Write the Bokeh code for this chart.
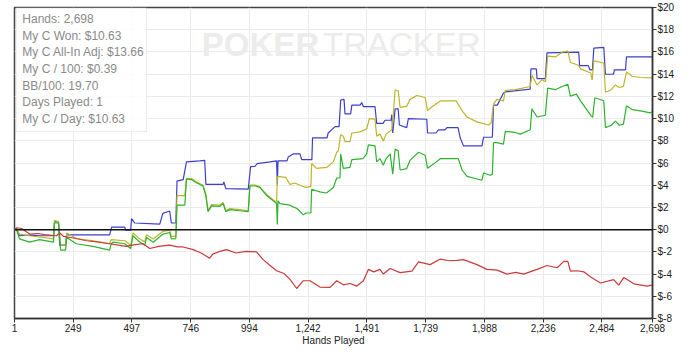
import math
from bokeh.plotting import figure
from bokeh.models import FixedTicker, Span, Label, BoxAnnotation, Range1d
from bokeh.embed import file_html
from bokeh.resources import INLINE

# ---------------- data ----------------
blue_h = [1, 9, 22, 65, 107, 166, 170, 187, 192, 217, 221, 403, 412, 467, 471, 492, 496, 509, 615, 628,
          657, 664, 683, 688, 714, 728, 784, 805, 810, 883, 886, 894, 989, 999, 1017, 1027, 1081, 1109,
          1112, 1115, 1153, 1158, 1179, 1208, 1215, 1258, 1261, 1322, 1327, 1356, 1373, 1380, 1394, 1398,
          1422, 1427, 1462, 1469, 1476, 1525, 1532, 1559, 1567, 1593, 1596, 1600, 1610, 1623, 1628, 1659,
          1666, 1744, 1747, 1783, 1793, 1821, 1829, 1876, 1885, 1899, 1977, 1984, 2021, 2026, 2042, 2068,
          2076, 2181, 2184, 2207, 2210, 2245, 2252, 2386, 2390, 2427, 2433, 2444, 2450, 2492, 2499, 2533,
          2537, 2584, 2588, 2698]
blue_v = [0.0, 0.1, -0.55, -0.5, -0.55, -0.55, 0.7, 0.7, -1.4, -1.4, -0.47, -0.47, 0.23, 0.23, -0.05, -0.05,
          1.0, 0.6, 0.5, 1.47, 1.68, 0.6, 0.6, 4.37, 4.5, 6.1, 6.19, 6.24, 4.07, 4.07, 4.3, 3.7, 3.64, 5.67,
          5.7, 5.95, 6.1, 6.19, 4.07, 6.19, 6.19, 6.53, 6.82, 6.82, 6.3, 6.3, 8.27, 8.27, 8.7, 9.27, 9.27,
          11.67, 11.73, 10.43, 10.43, 11.21, 11.21, 11.44, 11.07, 11.07, 9.57, 9.57, 9.85, 9.85, 10.35, 8.7,
          10.87, 10.87, 9.42, 9.19, 10.0, 9.94, 8.7, 8.7, 8.99, 8.99, 9.19, 9.19, 8.27, 7.54, 7.54, 8.32,
          8.32, 11.21, 11.21, 12.3, 12.4, 12.65, 14.47, 14.47, 13.6, 13.6, 15.92, 15.98, 14.77, 14.77,
          14.39, 14.39, 16.35, 16.41, 13.99, 13.99, 14.39, 14.39, 15.55, 15.55]

green_h = [1, 9, 22, 65, 107, 166, 170, 187, 196, 217, 222, 262, 333, 403, 410, 417, 467, 492, 502, 531,
           552, 559, 587, 629, 657, 664, 683, 688, 721, 728, 750, 770, 798, 810, 819, 834, 869, 883, 894,
           911, 954, 989, 996, 1021, 1038, 1067, 1109, 1112, 1115, 1123, 1165, 1179, 1195, 1222, 1233,
           1254, 1257, 1292, 1320, 1349, 1363, 1377, 1380, 1391, 1419, 1427, 1474, 1490, 1497, 1525, 1532,
           1546, 1560, 1572, 1589, 1600, 1610, 1623, 1631, 1659, 1673, 1709, 1737, 1747, 1772, 1801, 1877,
           1893, 1914, 1977, 1984, 2012, 2021, 2026, 2040, 2068, 2076, 2118, 2139, 2181, 2188, 2210, 2245,
           2255, 2287, 2316, 2340, 2351, 2376, 2394, 2437, 2445, 2454, 2492, 2499, 2524, 2541, 2558, 2575,
           2588, 2612, 2647, 2689, 2698]
green_v = [0.0, 0.0, -0.83, -1.13, -0.9, -1.13, 0.6, 0.6, -1.85, -1.85, -0.7, -1.27, -1.5, -1.85, -1.27,
           -1.13, -1.27, -1.7, -0.55, -1.13, -1.4, -0.7, -1.13, -0.4, -0.26, -0.83, -0.8, 2.2, 2.2, 4.57,
           4.5, 4.22, 3.93, 3.07, 1.62, 2.14, 2.1, 2.34, 1.62, 1.8, 1.7, 1.62, 3.93, 3.93, 3.8, 3.07, 2.34,
           0.47, 2.6, 2.34, 2.2, 2.05, 1.9, 1.33, 1.5, 1.5, 3.64, 3.4, 3.3, 3.79, 4.65, 4.65, 6.82, 5.52,
           5.6, 6.3, 6.4, 6.82, 7.63, 7.55, 6.1, 6.4, 5.8, 6.4, 6.82, 5.0, 7.25, 7.1, 5.37, 5.5, 6.24, 6.97,
           6.7, 5.52, 5.9, 6.39, 6.39, 5.37, 4.8, 4.45, 5.1, 4.9, 5.0, 7.83, 7.83, 7.7, 8.84, 8.75, 8.6,
           8.99, 10.87, 10.14, 10.3, 12.74, 12.6, 12.89, 13.09, 12.02, 12.2, 11.59, 10.29, 10.1, 11.87,
           11.6, 9.19, 9.4, 9.77, 9.4, 9.5, 11.15, 10.81, 10.7, 10.52, 10.63]

yellow_h = [1, 9, 22, 65, 166, 170, 187, 196, 217, 222, 262, 333, 403, 410, 467, 492, 502, 531, 552, 559,
            587, 629, 657, 664, 683, 688, 721, 728, 750, 770, 798, 810, 819, 834, 869, 883, 894, 911, 954,
            989, 996, 1021, 1038, 1067, 1109, 1112, 1148, 1165, 1186, 1215, 1233, 1254, 1257, 1278, 1320,
            1349, 1363, 1370, 1380, 1391, 1398, 1419, 1427, 1462, 1490, 1501, 1525, 1532, 1546, 1560, 1572,
            1596, 1601, 1610, 1623, 1631, 1659, 1673, 1702, 1737, 1747, 1772, 1801, 1868, 1893, 1914, 1956,
            2005, 2016, 2026, 2040, 2068, 2076, 2118, 2181, 2188, 2210, 2231, 2246, 2255, 2288, 2316, 2340,
            2351, 2385, 2394, 2437, 2443, 2450, 2492, 2499, 2524, 2541, 2558, 2575, 2588, 2612, 2647, 2698]
yellow_v = [0.0, 0.05, -0.4, -0.55, -0.83, 0.85, 0.7, -1.4, -1.4, -0.3, -0.8, -1.0, -1.27, -0.9, -1.0,
            -1.4, -0.3, -0.85, -1.1, -0.45, -0.85, -0.15, -0.05, -0.6, -0.6, 3.07, 3.07, 4.57, 4.6, 4.3,
            4.0, 3.15, 1.7, 2.25, 2.2, 2.45, 1.7, 1.9, 1.8, 1.7, 4.0, 4.0, 3.85, 3.15, 2.45, 4.8, 4.7, 4.07,
            4.2, 3.93, 3.8, 3.9, 5.95, 5.52, 5.6, 6.1, 6.97, 7.1, 8.55, 8.4, 7.92, 7.92, 8.7, 8.8, 9.07,
            10.0, 9.95, 8.41, 8.6, 7.97, 8.6, 8.99, 10.0, 12.6, 12.5, 11.0, 11.1, 11.73, 12.08, 11.9, 10.72,
            11.15, 11.59, 11.59, 10.72, 10.14, 9.7, 9.42, 9.6, 11.3, 11.73, 11.6, 12.54, 12.6, 12.89, 13.9,
            13.03, 13.5, 13.32, 15.63, 15.55, 15.98, 16.07, 15.05, 14.8, 14.47, 14.1, 13.47, 15.2, 15.0,
            12.37, 12.6, 13.03, 12.8, 12.9, 14.19, 13.81, 13.7, 13.66]

red_h = [1, 11, 31, 65, 100, 128, 178, 192, 208, 250, 305, 350, 403, 440, 474, 510, 544, 573, 610, 657,
         690, 714, 756, 790, 826, 839, 870, 897, 937, 980, 1024, 1052, 1080, 1109, 1140, 1165, 1194, 1222,
         1250, 1292, 1335, 1363, 1391, 1420, 1448, 1476, 1497, 1520, 1546, 1560, 1589, 1631, 1681, 1709,
         1758, 1801, 1840, 1871, 1899, 1956, 1998, 2041, 2083, 2120, 2153, 2210, 2252, 2295, 2323, 2340,
         2351, 2380, 2407, 2440, 2478, 2534, 2555, 2577, 2619, 2676, 2698]
red_v = [0.0, 0.17, 0.1, -0.4, -0.35, -0.45, -0.55, -0.3, -0.6, -0.75, -1.0, -1.1, -1.27, -1.4, -1.5, -1.35,
         -1.27, -1.7, -1.5, -1.4, -1.55, -1.56, -1.8, -2.1, -2.57, -2.2, -1.95, -1.8, -2.1, -1.95, -2.0,
         -2.7, -3.2, -3.7, -3.95, -4.45, -5.3, -4.6, -4.6, -5.17, -5.2, -4.6, -4.97, -4.85, -5.08, -4.6,
         -3.58, -3.8, -3.58, -4.0, -3.5, -3.87, -3.73, -2.9, -3.15, -2.65, -2.8, -2.77, -2.7, -3.15, -3.58,
         -3.64, -4.0, -3.85, -4.0, -3.58, -3.23, -3.43, -2.86, -2.86, -3.73, -3.7, -3.8, -4.3, -4.8, -4.5,
         -5.0, -4.3, -4.88, -5.08, -4.97]

x_ticks = [1, 249, 497, 746, 994, 1242, 1491, 1739, 1988, 2236, 2484, 2698]
x_tick_labels = ["1", "249", "497", "746", "994", "1,242", "1,491", "1,739", "1,988", "2,236", "2,484", "2,698"]
y_ticks = [-8, -6, -4, -2, 0, 2, 4, 6, 8, 10, 12, 14, 16, 18, 20]
y_tick_labels = ["$-8", "$-6", "$-4", "$-2", "$0", "$2", "$4", "$6", "$8", "$10", "$12", "$14", "$16", "$18", "$20"]

stats_lines = ["Hands: 2,698", "My C Won: $10.63", "My C All-In Adj: $13.66", "My C / 100: $0.39",
               "BB/100: 19.70", "Days Played: 1", "My C / Day: $10.63"]

# ---------------- figure ----------------
FONT = "Liberation Sans"
p = figure(width=684, height=348, output_backend="svg", toolbar_location=None,
           x_range=Range1d(1, 2698), y_range=Range1d(-8, 20), y_axis_location="right",
           min_border_left=14, min_border_right=32, min_border_top=7, min_border_bottom=24)
p.background_fill_color = "white"
p.border_fill_color = "white"
p.outline_line_color = "#444444"
p.outline_line_width = 1.5

p.xgrid.ticker = FixedTicker(ticks=x_ticks)
p.ygrid.ticker = FixedTicker(ticks=y_ticks)
p.xgrid.grid_line_color = "#ebebeb"
p.ygrid.grid_line_color = "#ebebeb"

# watermark
p.add_layout(Label(x=793, y=15.0, text="POKER", text_font=FONT, text_font_size="33px",
                   text_font_style="bold", text_color="#ececec", level="underlay"))
p.add_layout(Label(x=1305, y=15.0, text="TRACKER", text_font=FONT, text_font_size="33px",
                   text_color="#ececec", level="underlay"))

xa = p.xaxis[0]
xa.ticker = FixedTicker(ticks=x_ticks)
xa.major_label_overrides = {t: l for t, l in zip(x_ticks, x_tick_labels)}
xa.axis_label = "Hands Played"
ya = p.yaxis[0]
ya.ticker = FixedTicker(ticks=y_ticks)
ya.major_label_overrides = {t: l for t, l in zip(y_ticks, y_tick_labels)}
for ax in (xa, ya):
    ax.axis_line_color = "#333333"
    ax.axis_line_width = 1.5
    ax.major_tick_line_color = "#333333"
    ax.major_tick_in = 0
    ax.major_tick_out = 4
    ax.minor_tick_line_color = None
    ax.major_label_text_font = FONT
    ax.major_label_text_font_size = "10px"
    ax.major_label_text_color = "#222222"
    ax.axis_label_text_font = FONT
    ax.axis_label_text_font_size = "10px"
    ax.axis_label_text_font_style = "normal"
    ax.axis_label_text_color = "#222222"
    ax.major_label_standoff = 1
    ax.axis_label_standoff = 0
ya.major_label_orientation = "horizontal"

# "$" axis title on the right, placed beside the tick labels
p.add_layout(Label(x=2698, y=6, x_offset=25, text="$", angle=-math.pi / 2, text_font=FONT,
                   text_font_size="10px", text_color="#222222", text_align="center",
                   text_baseline="middle"))

p.add_layout(Span(location=0, dimension="width", line_color="#111111", line_width=1.5))

lw = 1.2
p.line(blue_h, blue_v, line_color="#3b3fcc", line_width=lw)
p.line(yellow_h, yellow_v, line_color="#bdb52a", line_width=lw)
p.line(green_h, green_v, line_color="#2db32d", line_width=lw)
p.line(red_h, red_v, line_color="#c93a3a", line_width=lw)

# stats box
p.add_layout(BoxAnnotation(left=8, right=559, top=19.97, bottom=8.84, fill_color="white",
                           fill_alpha=0.85, line_color="#bdbdbd", line_width=1, level="annotation"))
ys = [18.95, 17.45, 15.95, 14.45, 12.95, 11.45, 9.95]
for txt, yy in zip(stats_lines, ys):
    p.add_layout(Label(x=34, y=yy, text=txt, text_font=FONT, text_font_size="12px",
                       text_color="#8a8a8a", text_baseline="middle"))

open("out.html", "w").write(file_html(p, INLINE))
